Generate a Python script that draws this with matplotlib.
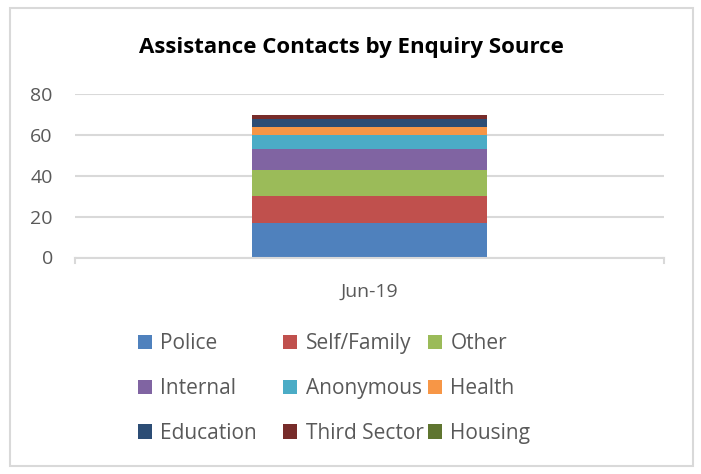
import matplotlib
matplotlib.use('Agg')
from matplotlib import pyplot as plt
from matplotlib.patches import Rectangle

# data
month = ['Jun-19']
sources = ['Police', 'Self/Family', 'Other', 'Internal', 'Anonymous',
           'Health', 'Education', 'Third Sector', 'Housing']
counts = [17, 13, 13, 10, 7, 4, 4, 2, 0]
colours = ['#4F81BD', '#C0504D', '#9BBB59', '#8064A2', '#4BACC6',
           '#F79646', '#2C4D75', '#772C2A', '#5F7530']

W, H = 701, 474
plt.rcParams['font.family'] = ['Open Sans', 'DejaVu Sans']
fig = plt.figure(figsize=(W / 100, H / 100), dpi=100)

# chart border
fig.patches.append(Rectangle((10 / W, 1 - 466 / H), 683 / W, 458 / H,
                             transform=fig.transFigure, fill=False,
                             edgecolor='#D9D9D9', linewidth=1.5))

# plot area in pixels
left, right, top, bottom = 75, 664, 94.3, 257.5
ax = fig.add_axes([left / W, 1 - bottom / H, (right - left) / W, (bottom - top) / H])

grey = '#595959'
base = 0
for src, n, c in zip(sources, counts, colours):
    ax.bar(month, [n], bottom=[base], width=0.4, color=c, label=src, zorder=2)
    base += n

ax.set_xlim(-0.5, 0.5)
ax.set_ylim(0, 80)
ax.set_yticks(range(0, 81, 20))
ax.grid(axis='y', color='#D9D9D9', linewidth=1.5, zorder=0)
for s in ['top', 'right', 'left']:
    ax.spines[s].set_visible(False)
ax.spines['bottom'].set_color('#D9D9D9')
ax.spines['bottom'].set_linewidth(1.5)
ax.tick_params(axis='y', length=0, pad=16, labelsize=14, labelcolor=grey)
ax.tick_params(axis='x', length=0, pad=18, labelsize=14, labelcolor=grey)
# category boundary ticks like the original
for xb in (-0.5, 0.5):
    ax.plot([xb, xb], [0, -2.5], color='#D9D9D9', linewidth=1.5, clip_on=False)

fig.text(351 / W, 1 - 47 / H, 'Assistance Contacts by Enquiry Source',
         ha='center', va='center', fontsize=16, fontweight='bold', color='black')

# legend laid out row by row, three entries per row, one legend per column
handles, labels = ax.get_legend_handles_labels()
col_x = [138, 283, 428]
for j, x in enumerate(col_x):
    leg = fig.legend(handles[j::3], labels[j::3], loc='upper left', frameon=False,
                     bbox_to_anchor=(x / W, 1 - 333 / H), borderaxespad=0,
                     borderpad=0, fontsize=15, labelcolor=grey,
                     handlelength=0.68, handleheight=0.68, handletextpad=0.4,
                     labelspacing=1.15)

fig.savefig('out.png', dpi=100)
